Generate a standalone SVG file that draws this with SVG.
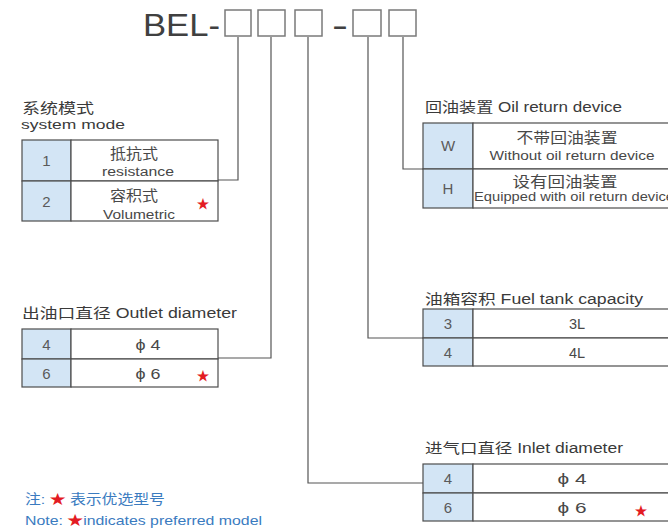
<svg xmlns="http://www.w3.org/2000/svg" width="668" height="531" viewBox="0 0 668 531">
<style>
text{font-family:"Liberation Sans","Noto Sans CJK SC",sans-serif;fill:#484848}
.big{font-size:31px;fill:#404040}
.ttl{font-size:14px;fill:#3a3a3a}
.en{font-size:12.5px}
.zh{font-size:14.5px}
.num{font-size:15px;fill:#5a5a5a;text-anchor:middle}
.mid{text-anchor:middle}
.star{font-size:13px;fill:#e31b23;text-anchor:middle}
.note{font-size:13.5px;fill:#3a7bbf}
.box{fill:none;stroke:#7a7a7a;stroke-width:1.5}
.nc{fill:#d3e5f5;stroke:#4d4d4d;stroke-width:1.2}
.dc{fill:#fff;stroke:#4d4d4d;stroke-width:1.2}
.conn{fill:none;stroke:#555;stroke-width:1.2}
</style>
<rect width="668" height="531" fill="#fff"/>
<g id="code">
<text class="big" x="143" y="36" textLength="77" lengthAdjust="spacingAndGlyphs">BEL-</text>
<text class="big" x="332" y="36" textLength="16" lengthAdjust="spacingAndGlyphs">-</text>
</g>
<g id="box1"><rect class="box" x="225" y="10" width="26" height="26"/></g>
<g id="box2"><rect class="box" x="258" y="10" width="27" height="26"/></g>
<g id="box3"><rect class="box" x="295" y="10" width="27" height="26"/></g>
<g id="box4"><rect class="box" x="353" y="10" width="28" height="26"/></g>
<g id="box5"><rect class="box" x="389" y="10" width="27" height="26"/></g>
<g id="connectors">
<path class="conn" d="M238,37 V180 H218"/>
<path class="conn" d="M271,37 V358 H218"/>
<path class="conn" d="M308,37 V483 H423"/>
<path class="conn" d="M368,37 V338 H423"/>
<path class="conn" d="M403,37 V169 H423"/>
</g>
<g id="system-mode">
<text class="ttl" x="22" y="113" textLength="72" lengthAdjust="spacingAndGlyphs">系统模式</text>
<text class="ttl" x="21" y="129" style="font-size:13px" textLength="104" lengthAdjust="spacingAndGlyphs">system mode</text>
<rect class="nc" x="22" y="140" width="49" height="41"/>
<rect class="dc" x="71" y="140" width="147" height="41"/>
<rect class="nc" x="22" y="181" width="49" height="40"/>
<rect class="dc" x="71" y="181" width="147" height="40"/>
<text class="num" x="46.5" y="166">1</text>
<text class="zh mid" x="134" y="159" textLength="48" lengthAdjust="spacingAndGlyphs">抵抗式</text>
<text class="en mid" x="138" y="176" textLength="72" lengthAdjust="spacingAndGlyphs">resistance</text>
<text class="num" x="46.5" y="207">2</text>
<text class="zh mid" x="134" y="201" textLength="48" lengthAdjust="spacingAndGlyphs">容积式</text>
<text class="en mid" x="139" y="219" textLength="72" lengthAdjust="spacingAndGlyphs">Volumetric</text>
<text class="star" x="203" y="208">★</text>
</g>
<g id="outlet-diameter">
<text class="ttl" x="22" y="318" textLength="215" lengthAdjust="spacingAndGlyphs">出油口直径 Outlet diameter</text>
<rect class="nc" x="22" y="329" width="49" height="30"/>
<rect class="dc" x="71" y="329" width="147" height="30"/>
<rect class="nc" x="22" y="359" width="49" height="28"/>
<rect class="dc" x="71" y="359" width="147" height="28"/>
<text class="num" x="46.5" y="350">4</text>
<text class="zh mid" x="148" y="350" textLength="25" lengthAdjust="spacingAndGlyphs">ϕ 4</text>
<text class="num" x="46.5" y="379">6</text>
<text class="zh mid" x="148" y="379" textLength="25" lengthAdjust="spacingAndGlyphs">ϕ 6</text>
<text class="star" x="203" y="380">★</text>
</g>
<g id="oil-return">
<text class="ttl" x="425" y="112" textLength="197" lengthAdjust="spacingAndGlyphs">回油装置 Oil return device</text>
<rect class="nc" x="423" y="123" width="50" height="46"/>
<rect class="dc" x="473" y="123" width="230" height="46"/>
<rect class="nc" x="423" y="169" width="50" height="39"/>
<rect class="dc" x="473" y="169" width="230" height="39"/>
<text class="num" x="448" y="151">W</text>
<text class="zh mid" x="567" y="143" textLength="101" lengthAdjust="spacingAndGlyphs">不带回油装置</text>
<text class="en mid" x="572" y="160" textLength="165" lengthAdjust="spacingAndGlyphs">Without oil return device</text>
<text class="num" x="448" y="194">H</text>
<text class="zh mid" x="565" y="187" textLength="105" lengthAdjust="spacingAndGlyphs">设有回油装置</text>
<text class="en" x="474" y="201" textLength="200" lengthAdjust="spacingAndGlyphs">Equipped with oil return device</text>
</g>
<g id="fuel-tank">
<text class="ttl" x="425" y="304" textLength="218" lengthAdjust="spacingAndGlyphs">油箱容积 Fuel tank capacity</text>
<rect class="nc" x="423" y="309" width="50" height="29"/>
<rect class="dc" x="473" y="309" width="230" height="29"/>
<rect class="nc" x="423" y="338" width="50" height="28"/>
<rect class="dc" x="473" y="338" width="230" height="28"/>
<text class="num" x="448" y="329">3</text>
<text class="zh mid" x="577" y="329">3L</text>
<text class="num" x="448" y="358">4</text>
<text class="zh mid" x="577" y="358">4L</text>
</g>
<g id="inlet-diameter">
<text class="ttl" x="425" y="453" textLength="198" lengthAdjust="spacingAndGlyphs">进气口直径 Inlet diameter</text>
<rect class="nc" x="423" y="464" width="50" height="29"/>
<rect class="dc" x="473" y="464" width="230" height="29"/>
<rect class="nc" x="423" y="493" width="50" height="28"/>
<rect class="dc" x="473" y="493" width="230" height="28"/>
<text class="num" x="448" y="484">4</text>
<text class="zh mid" x="572" y="484" textLength="29" lengthAdjust="spacingAndGlyphs">ϕ 4</text>
<text class="num" x="448" y="513">6</text>
<text class="zh mid" x="572" y="513" textLength="29" lengthAdjust="spacingAndGlyphs">ϕ 6</text>
<text class="star" x="641" y="515">★</text>
</g>
<g id="note">
<text class="note" x="25" y="504" textLength="140" lengthAdjust="spacingAndGlyphs">注: <tspan fill="#e31b23">★</tspan> 表示优选型号</text>
<text class="note" x="25" y="525" textLength="237" lengthAdjust="spacingAndGlyphs">Note: <tspan fill="#e31b23">★</tspan>indicates preferred model</text>
</g>
</svg>
